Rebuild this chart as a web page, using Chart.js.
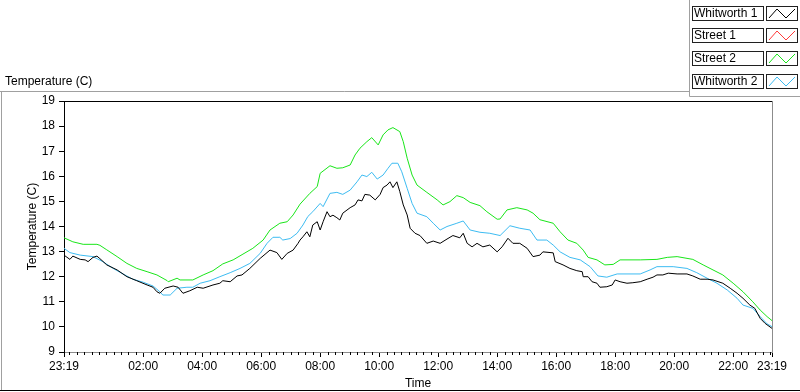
<!DOCTYPE html>
<html>
<head>
<meta charset="utf-8">
<script src="https://cdn.jsdelivr.net/npm/chart.js@4.4.0/dist/chart.umd.min.js"></script>
<style>
  body { margin: 0; background: #fff; }
  #wrap { width: 800px; height: 392px; }
</style>
</head>
<body>
<div id="wrap"><canvas id="myChart" width="800" height="392"></canvas></div>
<script>
// data (x = minutes after 23:19)
const startOfDay = 23 * 60 + 19;
const tickMinutes = [0, 161, 281, 401, 521, 641, 761, 881, 1001, 1121, 1241, 1361, 1440];
const seriesNames = ['Whitworth 1', 'Street 1', 'Street 2', 'Whitworth 2'];
const seriesColors = ['#000000', '#ff3a3a', '#19e619', '#3dbcf2'];

const whitworth1Min = [0, 12, 18, 33, 43, 49, 59, 67, 73, 87, 108, 128, 148, 169, 181, 189, 195, 205, 222, 232,
  242, 256, 271, 283, 303, 317, 323, 338, 352, 362, 378, 399, 419, 433, 443, 454, 466, 476, 480, 486,
  494, 500, 506, 515, 521, 527, 535, 541, 547, 555, 561, 567, 582, 592, 598, 606, 612, 622, 633, 643,
  649, 657, 663, 669, 677, 683, 690, 698, 704, 714, 724, 738, 751, 765, 779, 791, 805, 812, 820, 830,
  840, 852, 866, 881, 891, 903, 913, 927, 942, 954, 968, 974, 995, 999, 1015, 1029, 1043, 1054, 1056, 1066,
  1074, 1084, 1090, 1104, 1115, 1121, 1131, 1145, 1157, 1172, 1186, 1198, 1206, 1218, 1229, 1247, 1267, 1279, 1294, 1308,
  1320, 1340, 1355, 1369, 1381, 1395, 1405, 1416, 1426, 1440];
const whitworth1Temp = [12.86, 12.69, 12.82, 12.69, 12.67, 12.60, 12.77, 12.82, 12.72, 12.47, 12.27, 12.00, 11.84, 11.67, 11.58, 11.40, 11.34, 11.54, 11.63, 11.58,
  11.34, 11.44, 11.58, 11.54, 11.67, 11.74, 11.84, 11.80, 12.03, 12.07, 12.33, 12.73, 13.06, 12.96, 12.69, 12.93, 13.06, 13.33, 13.46, 13.59,
  13.79, 13.59, 14.06, 14.19, 13.86, 14.19, 14.59, 14.39, 14.45, 14.35, 14.26, 14.53, 14.75, 14.86, 15.06, 15.02, 15.28, 15.25, 15.06, 15.28,
  15.55, 15.65, 15.78, 15.55, 15.78, 15.39, 14.86, 14.46, 13.93, 13.73, 13.64, 13.33, 13.42, 13.33, 13.50, 13.64, 13.55, 13.73, 13.33, 13.19,
  13.33, 13.19, 13.26, 12.99, 13.19, 13.53, 13.33, 13.33, 13.13, 12.80, 12.86, 12.99, 12.95, 12.60, 12.47, 12.33, 12.24, 12.20, 12.00, 12.00,
  11.80, 11.74, 11.58, 11.60, 11.67, 11.87, 11.80, 11.74, 11.76, 11.80, 11.90, 11.98, 12.07, 12.07, 12.14, 12.11, 12.11, 12.03, 11.90, 11.90,
  11.87, 11.74, 11.54, 11.34, 11.14, 10.87, 10.74, 10.34, 10.14, 9.94];

const street1Min = [];
const street1Temp = [];

const street2Min = [0, 18, 39, 67, 73, 87, 108, 128, 148, 169, 189, 210, 212, 230, 236, 262, 283, 303, 323, 344,
  364, 384, 405, 419, 439, 454, 466, 480, 500, 515, 521, 541, 555, 567, 582, 592, 602, 616, 626, 639,
  649, 659, 669, 683, 690, 698, 708, 718, 738, 759, 771, 785, 799, 812, 826, 846, 860, 881, 887, 901,
  921, 942, 954, 968, 995, 1009, 1025, 1043, 1056, 1066, 1084, 1100, 1117, 1131, 1172, 1206, 1227, 1247, 1279, 1300,
  1320, 1340, 1361, 1381, 1401, 1416, 1430, 1440];
const street2Temp = [13.55, 13.39, 13.29, 13.29, 13.25, 13.07, 12.80, 12.53, 12.33, 12.20, 12.07, 11.84, 11.80, 11.94, 11.87, 11.87, 12.07, 12.24, 12.51, 12.67,
  12.90, 13.13, 13.46, 13.86, 14.13, 14.19, 14.46, 14.89, 15.32, 15.59, 16.12, 16.42, 16.32, 16.34, 16.45, 16.85, 17.12, 17.38, 17.54, 17.25,
  17.65, 17.85, 17.94, 17.78, 17.38, 16.72, 16.05, 15.65, 15.36, 15.06, 14.86, 14.99, 15.23, 15.15, 14.96, 14.83, 14.59, 14.29, 14.30, 14.66,
  14.75, 14.66, 14.53, 14.27, 14.13, 13.79, 13.46, 13.33, 13.06, 12.77, 12.67, 12.47, 12.49, 12.67, 12.67, 12.69, 12.77, 12.80, 12.69, 12.47,
  12.27, 12.07, 11.74, 11.40, 11.00, 10.67, 10.41, 10.25];

const whitworth2Min = [0, 12, 33, 59, 79, 100, 120, 140, 161, 181, 195, 201, 216, 230, 250, 262, 277, 297, 317, 338,
  358, 378, 399, 413, 425, 439, 445, 460, 474, 486, 496, 506, 521, 527, 541, 555, 567, 582, 596, 606,
  616, 626, 637, 649, 659, 667, 679, 687, 698, 708, 718, 738, 751, 765, 779, 799, 812, 826, 846, 866,
  887, 907, 927, 948, 962, 982, 995, 1009, 1029, 1050, 1070, 1086, 1104, 1125, 1172, 1192, 1206, 1239, 1267, 1287,
  1308, 1328, 1349, 1369, 1381, 1401, 1416, 1430, 1440];
const whitworth2Temp = [13.13, 12.96, 12.86, 12.80, 12.60, 12.33, 12.11, 11.90, 11.78, 11.63, 11.40, 11.27, 11.27, 11.54, 11.58, 11.58, 11.74, 11.84, 12.00, 12.16,
  12.33, 12.53, 12.93, 13.33, 13.57, 13.57, 13.46, 13.52, 13.73, 14.06, 14.40, 14.59, 14.92, 14.79, 15.32, 15.36, 15.28, 15.45, 15.78, 16.05,
  15.99, 16.16, 15.89, 16.05, 16.32, 16.52, 16.52, 16.18, 15.52, 14.92, 14.53, 14.39, 14.13, 13.86, 14.00, 14.13, 14.22, 13.86, 13.77, 13.73,
  13.64, 14.03, 13.93, 13.86, 13.46, 13.46, 13.26, 12.99, 12.77, 12.67, 12.40, 12.03, 11.98, 12.11, 12.11, 12.27, 12.40, 12.40, 12.33, 12.16,
  11.94, 11.74, 11.47, 11.14, 10.87, 10.74, 10.41, 10.12, 10.01];

const FONT = 'Liberation Sans, Arial, sans-serif';

function toPoints(mins, temps) {
  return mins.map((m, i) => ({ x: m, y: temps[i] }));
}

function clockLabel(v) {
  const t = (startOfDay + v) % 1440;
  const h = Math.floor(t / 60), m = t % 60;
  return String(h).padStart(2, '0') + ':' + String(m).padStart(2, '0');
}

const allMins = [whitworth1Min, street1Min, street2Min, whitworth2Min];
const allTemps = [whitworth1Temp, street1Temp, street2Temp, whitworth2Temp];

// frame, legend, minor ticks
const framePlugin = {
  id: 'framePlugin',
  beforeDraw(chart) {
    const c = chart.ctx;
    c.save();
    c.fillStyle = '#fff';
    c.fillRect(0, 0, chart.width, chart.height);
    c.restore();
  },
  afterDraw(chart) {
    const c = chart.ctx;
    const a = chart.chartArea;
    const xs = chart.scales.x;
    c.save();
    c.lineWidth = 1;

    // outer frame
    c.strokeStyle = '#a0a0a0';
    c.beginPath();
    c.moveTo(0, 91.5); c.lineTo(689.5, 91.5);
    c.moveTo(1.5, 91.5); c.lineTo(1.5, 391);
    c.moveTo(689.5, 0); c.lineTo(689.5, 96.5); c.lineTo(800, 96.5);
    c.stroke();
    c.strokeStyle = '#000';
    c.beginPath();
    c.moveTo(0, 390.5); c.lineTo(800, 390.5);
    c.stroke();

    // plot borders top / right
    c.strokeStyle = '#000';
    c.beginPath();
    c.moveTo(a.left, a.top + 0.5); c.lineTo(a.right, a.top + 0.5);
    c.stroke();
    c.strokeStyle = '#8c8c8c';
    c.beginPath();
    c.moveTo(a.right + 0.5, a.top); c.lineTo(a.right + 0.5, a.bottom);
    c.stroke();

    // minor ticks every 15 min
    c.strokeStyle = '#000';
    c.beginPath();
    for (let m = 11; m < 1440; m += 15) {
      if (tickMinutes.includes(m)) continue;
      const px = Math.round(xs.getPixelForValue(m)) + 0.5;
      c.moveTo(px, a.bottom); c.lineTo(px, a.bottom + 3);
    }
    c.stroke();

    // chart title
    c.fillStyle = '#000';
    c.font = '12px ' + FONT;
    c.textBaseline = 'middle';
    c.textAlign = 'left';
    c.fillText('Temperature (C)', 5, 82);

    // legend
    const rows = [6, 28, 51, 74];
    chart.data.datasets.forEach((ds, i) => {
      const y = rows[i];
      c.fillStyle = '#fff';
      c.fillRect(692, y, 71, 14);
      c.fillRect(766, y, 31, 14);
      c.strokeStyle = '#202020';
      c.strokeRect(692.5, y + 0.5, 71, 14);
      c.strokeRect(766.5, y + 0.5, 31, 14);
      c.fillStyle = '#000';
      c.fillText(ds.label, 694, y + 8);
      c.strokeStyle = ds.borderColor;
      c.beginPath();
      c.moveTo(769, y + 12); c.lineTo(777, y + 3); c.lineTo(786, y + 12); c.lineTo(795, y + 3);
      c.stroke();
    });
    c.restore();
  }
};

const ctx = document.getElementById('myChart').getContext('2d');
const myChart = new Chart(ctx, {
  type: 'line',
  data: {
    datasets: seriesNames.map((name, i) => ({
      label: name,
      data: toPoints(allMins[i], allTemps[i]),
      borderColor: seriesColors[i],
      borderWidth: 1,
      pointRadius: 0,
      tension: 0,
      fill: false
    }))
  },
  options: {
    responsive: false,
    animation: false,
    layout: { padding: { left: 0, top: 101, right: 28, bottom: 0 } },
    plugins: { legend: { display: false }, tooltip: { enabled: false } },
    scales: {
      x: {
        type: 'linear',
        min: 0,
        max: 1440,
        afterBuildTicks: (axis) => { axis.ticks = tickMinutes.map(v => ({ value: v })); },
        afterFit: (axis) => { axis.height = 40; },
        ticks: {
          callback: (v) => clockLabel(v),
          autoSkip: false,
          maxRotation: 0,
          minRotation: 0,
          color: '#000',
          font: { family: FONT, size: 12 },
          padding: 2
        },
        grid: { drawOnChartArea: false, drawTicks: true, tickLength: 5, tickColor: '#000' },
        border: { display: true, color: '#8c8c8c', width: 1 },
        title: { display: true, text: 'Time', color: '#000', font: { family: FONT, size: 12 }, padding: { top: 0, bottom: 1 } }
      },
      y: {
        min: 9,
        max: 19,
        afterFit: (axis) => { axis.width = 64; },
        ticks: { stepSize: 1, color: '#000', font: { family: FONT, size: 12 }, padding: 4 },
        grid: { drawOnChartArea: false, drawTicks: true, tickLength: 5, tickColor: '#000' },
        border: { display: true, color: '#000', width: 1 },
        title: { display: true, text: 'Temperature (C)', color: '#000', font: { family: FONT, size: 12 }, padding: { top: 25, bottom: 0 } }
      }
    }
  },
  plugins: [framePlugin]
});
</script>
</body>
</html>
